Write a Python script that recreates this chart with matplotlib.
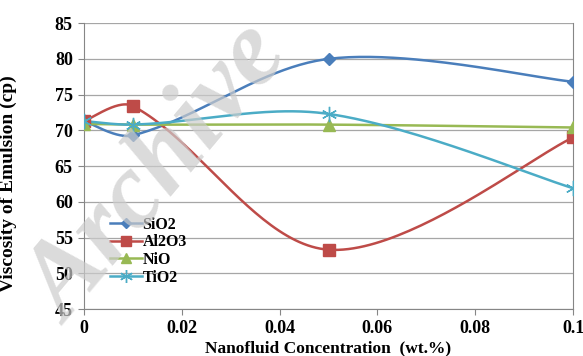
#!/usr/bin/env python3

import matplotlib
matplotlib.use('Agg')
import matplotlib.pyplot as plt
import numpy as np

##################

conc = [0, 0.01, 0.05, 0.1]
sio2 = [71.3, 69.3, 80.0, 76.8]
al2o3 = [71.3, 73.4, 53.3, 69.0]
nio = [70.9, 70.8, 70.8, 70.4]
tio2 = [71.3, 70.8, 72.3, 61.9]

series = [
    ('SiO2', sio2, '#4a7ebb', 'D', 6.5),
    ('Al2O3', al2o3, '#be4b48', 's', 8),
    ('NiO', nio, '#98b954', '^', 8.5),
    ('TiO2', tio2, '#4bacc6', (6, 2, 0), 11),
]

yticks = [45, 50, 55, 60, 65, 70, 75, 80, 85]
xticks = [0, 0.02, 0.04, 0.06, 0.08, 0.1]
xticklabels = ['0', '0.02', '0.04', '0.06', '0.08', '0.1']

##################

# rough pixel scale of the axes, used only for the smoothing
_SX = 4890.0
_SY = 7.15


def smooth(x, y, n=50):
    """
    Excel style smoothed line: Bezier segments, tangent length split by chord lengths
    """
    p = np.column_stack([np.asarray(x) * _SX, np.asarray(y) * _SY]).astype(float)
    m = len(p)
    d = np.hypot(*np.diff(p, axis=0).T)
    t = np.linspace(0, 1, n)[:, None]
    out = []
    for i in range(m - 1):
        p0, p1 = p[i], p[i + 1]
        if i == 0:
            c1 = p0 + (p1 - p0) / 6
        else:
            c1 = p0 + (p[i + 1] - p[i - 1]) * d[i] / (d[i - 1] + d[i]) / 3
        if i == m - 2:
            c2 = p1 - (p1 - p0) / 6
        else:
            c2 = p1 - (p[i + 2] - p[i]) * d[i] / (d[i] + d[i + 1]) / 3
        seg = (1 - t)**3 * p0 + 3 * (1 - t)**2 * t * c1 + 3 * (1 - t) * t**2 * c2 + t**3 * p1
        out.append(seg)
    pts = np.vstack(out)
    return pts[:, 0] / _SX, pts[:, 1] / _SY


def main():

    plt.rcParams['font.family'] = ['Liberation Serif', 'DejaVu Serif']
    fig = plt.figure(figsize=(5.83, 3.56), dpi=100)
    ax = fig.add_axes([0.144, 0.132, 0.839, 0.803])

    for name, vals, col, mk, ms in series:
        sx, sy = smooth(conc, vals)
        ax.plot(sx, sy, color=col, lw=1.8, zorder=3)
        ax.plot(conc, vals, ls='none', marker=mk, color=col, ms=ms, mec=col, zorder=4)

    # legend handles: line + marker
    handles = [plt.Line2D([], [], color=c, lw=1.8, marker=m, ms=ms * 0.85, mec=c)
               for _, _, c, m, ms in series]
    ax.legend(handles, [s[0] for s in series], loc='upper left', bbox_to_anchor=(0.04, 0.345),
              frameon=False, prop={'weight': 'bold', 'size': 11.5}, handlelength=2.0,
              handletextpad=0.05, labelspacing=0.1, borderaxespad=0)

    ax.set_xlim(0, 0.1)
    ax.set_ylim(45, 85)
    ax.set_yticks(yticks)
    ax.set_xticks(xticks)
    ax.set_xticklabels(xticklabels)
    ax.grid(axis='y', color='#a6a6a6', lw=0.9)
    ax.set_axisbelow(True)
    for sp in ax.spines.values():
        sp.set_color('#868686')
    ax.spines['top'].set_visible(False)
    ax.tick_params(direction='out', length=4, color='#868686', labelsize=13, pad=4)
    for lab in ax.get_xticklabels() + ax.get_yticklabels():
        lab.set_fontweight('bold')

    ax.set_ylabel('Viscosity of Emulsion (cp)', fontsize=14, fontweight='bold')
    ax.yaxis.set_label_coords(-0.137, 0.44)
    ax.set_xlabel('Nanofluid Concentration  (wt.%)', fontsize=12.5, fontweight='bold', labelpad=2)

    # watermark
    fig.text(160 / 583, 1 - 176 / 356, 'Archive', fontsize=78, fontstyle='italic', fontweight='bold',
             color='#cccccc', alpha=0.7, rotation=50, ha='center', va='center', zorder=10)

    fig.savefig('out.png', dpi=100)
    plt.close()


if __name__ == '__main__':
    main()
